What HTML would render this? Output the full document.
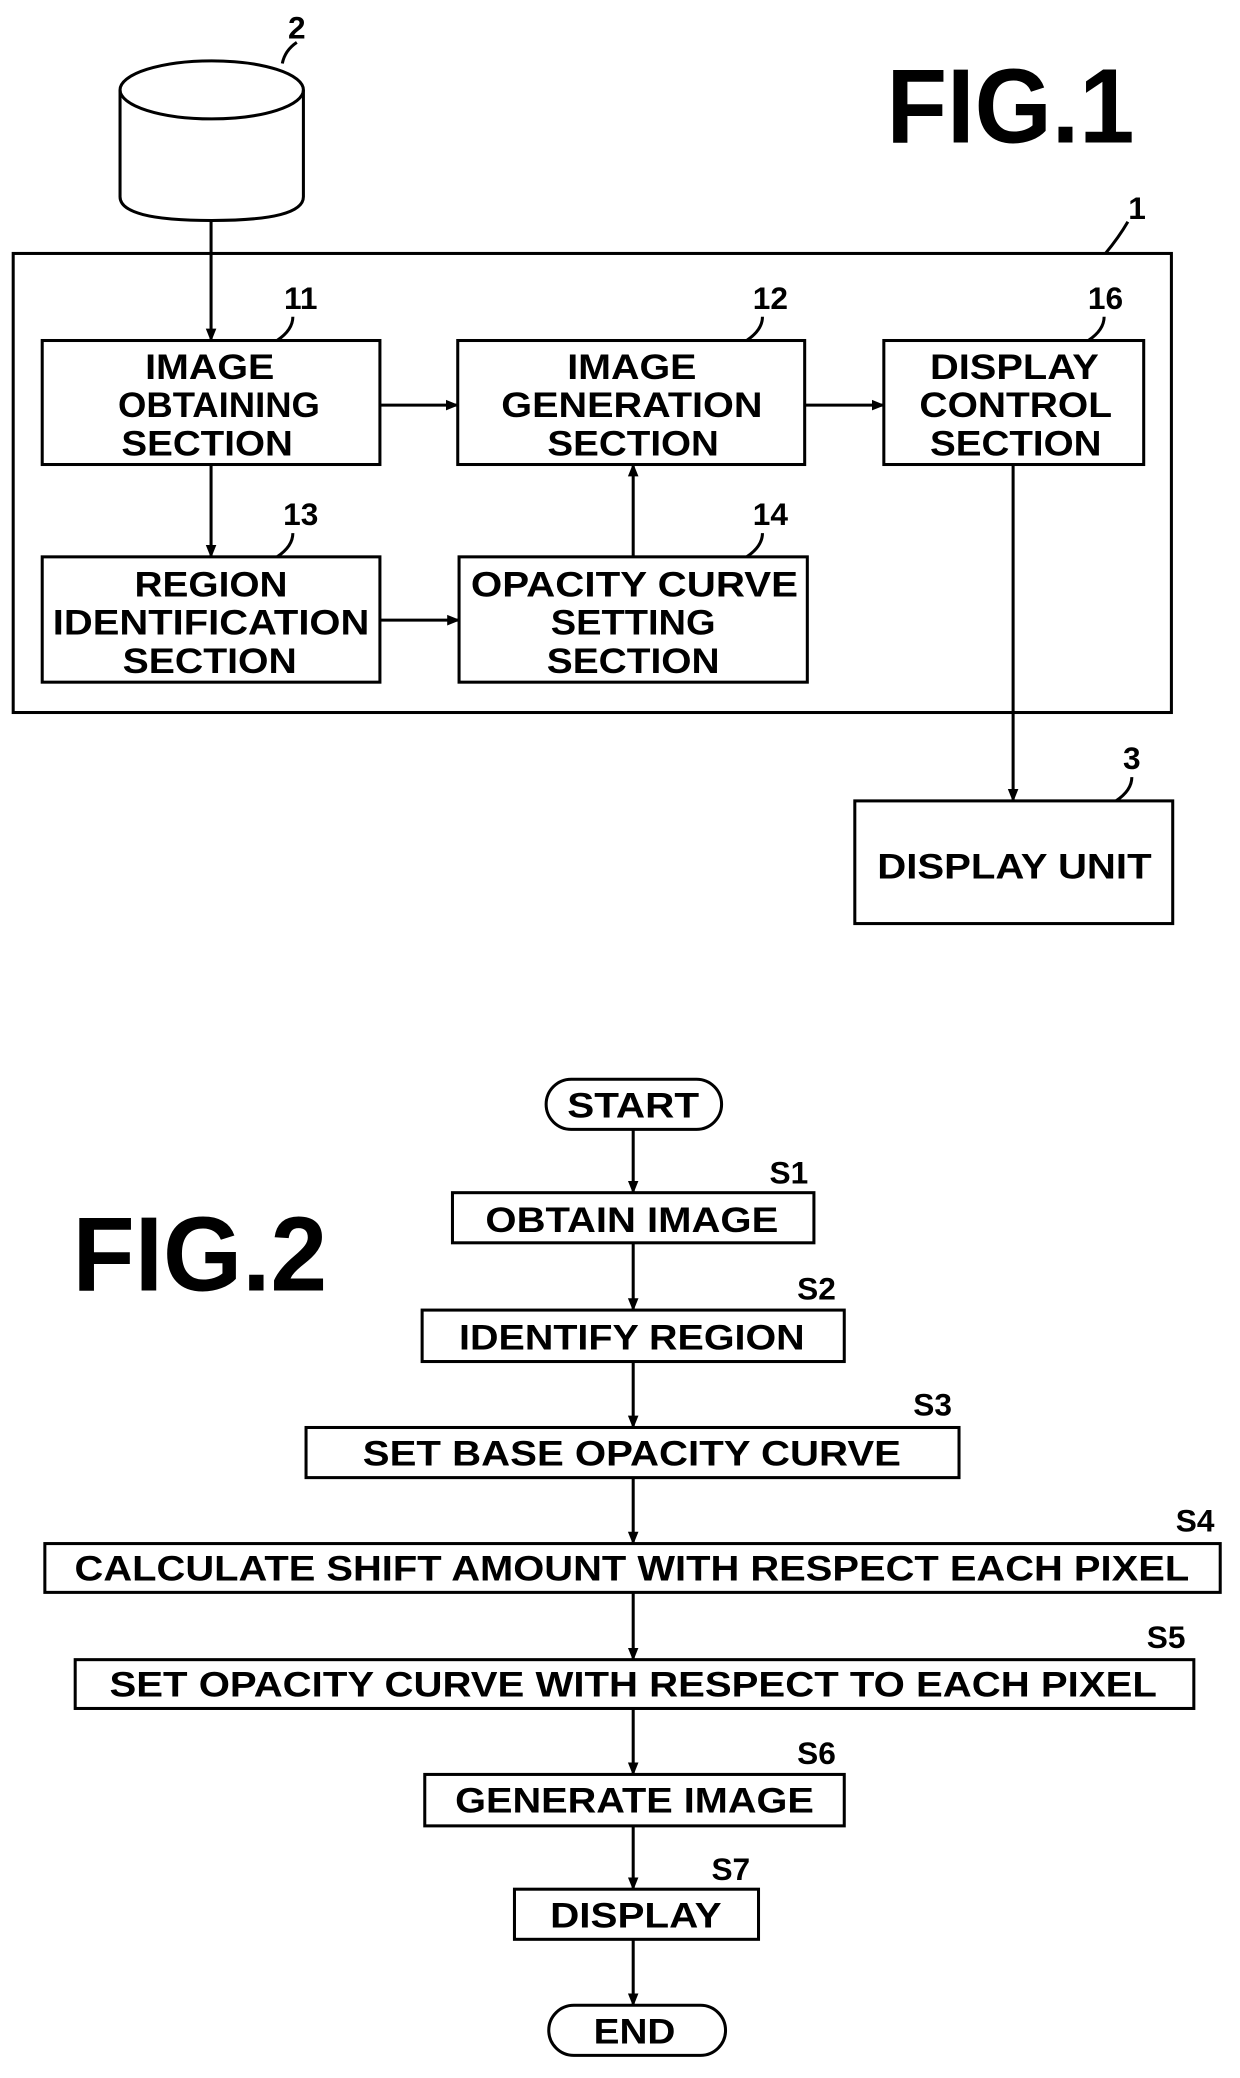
<!DOCTYPE html>
<html><head><meta charset="utf-8"><style>html,body{margin:0;padding:0;background:#fff}svg{display:block}</style></head>
<body>
<svg width="1240" height="2078" viewBox="0 0 940 1575" xmlns="http://www.w3.org/2000/svg" font-family="Liberation Sans, Arial, sans-serif" font-weight="bold">
<defs><marker id="a" markerWidth="10" markerHeight="10" refX="9" refY="5" orient="auto" markerUnits="userSpaceOnUse"><path d="M0,1 L10,5 L0,9 Z" fill="#000"/></marker></defs>
<g fill="none" stroke="#000" stroke-width="2.3">
<ellipse cx="160.5" cy="68" rx="69.5" ry="22"/>
<path d="M91,68 L91,149 Q91,167 160.5,167 Q230,167 230,149 L230,68"/>
<path d="M214,48 Q216,38 225,32"/>
<rect x="10" y="192" width="878" height="348"/>
<path d="M838,192 Q848,180 855,168"/>
<rect x="32" y="258" width="256" height="94"/>
<rect x="347" y="258" width="263" height="94"/>
<rect x="670" y="258" width="197" height="94"/>
<rect x="32" y="422" width="256" height="95"/>
<rect x="348" y="422" width="264" height="95"/>
<rect x="648" y="607" width="241" height="93"/>
<path d="M210,258 Q222,250 222,240"/><path d="M566,258 Q578,250 578,240"/><path d="M825,258 Q837,250 837,240"/>
<path d="M210,422 Q222,414 222,404"/><path d="M566,422 Q578,414 578,404"/><path d="M846,607 Q858,599 858,589"/>
<g marker-end="url(#a)">
<line x1="160" y1="167" x2="160" y2="258"/>
<line x1="160" y1="352" x2="160" y2="422"/>
<line x1="288" y1="307" x2="347" y2="307"/>
<line x1="610" y1="307" x2="670" y2="307"/>
<line x1="480" y1="422" x2="480" y2="352"/>
<line x1="288" y1="470" x2="348" y2="470"/>
<line x1="768" y1="352" x2="768" y2="607"/>
</g>
</g>
<g font-size="27" text-anchor="middle">
<text x="672" y="108" text-anchor="start" font-size="80" textLength="188" lengthAdjust="spacingAndGlyphs">FIG.1</text>
<text x="225" y="29" font-size="24">2</text>
<text x="862" y="166" font-size="24">1</text>
<text x="228" y="234" font-size="24">11</text><text x="584" y="234" font-size="24">12</text><text x="838" y="234" font-size="24">16</text>
<text x="228" y="398" font-size="24">13</text><text x="584" y="398" font-size="24">14</text><text x="858" y="583" font-size="24">3</text>
<text x="159" y="287" textLength="98" lengthAdjust="spacingAndGlyphs">IMAGE</text>
<text x="166" y="316" textLength="153" lengthAdjust="spacingAndGlyphs">OBTAINING</text>
<text x="157" y="345" textLength="130" lengthAdjust="spacingAndGlyphs">SECTION</text>
<text x="479" y="287" textLength="98" lengthAdjust="spacingAndGlyphs">IMAGE</text>
<text x="479" y="316" textLength="198" lengthAdjust="spacingAndGlyphs">GENERATION</text>
<text x="480" y="345" textLength="130" lengthAdjust="spacingAndGlyphs">SECTION</text>
<text x="769" y="287" textLength="128" lengthAdjust="spacingAndGlyphs">DISPLAY</text>
<text x="770" y="316" textLength="146" lengthAdjust="spacingAndGlyphs">CONTROL</text>
<text x="770" y="345" textLength="130" lengthAdjust="spacingAndGlyphs">SECTION</text>
<text x="160" y="452" textLength="116" lengthAdjust="spacingAndGlyphs">REGION</text>
<text x="160" y="481" textLength="240" lengthAdjust="spacingAndGlyphs">IDENTIFICATION</text>
<text x="159" y="510" textLength="132" lengthAdjust="spacingAndGlyphs">SECTION</text>
<text x="481" y="452" textLength="248" lengthAdjust="spacingAndGlyphs">OPACITY CURVE</text>
<text x="480" y="481" textLength="125" lengthAdjust="spacingAndGlyphs">SETTING</text>
<text x="480" y="510" textLength="131" lengthAdjust="spacingAndGlyphs">SECTION</text>
<text x="769" y="666" textLength="208" lengthAdjust="spacingAndGlyphs">DISPLAY UNIT</text>
</g>
<g fill="none" stroke="#000" stroke-width="2.3">
<rect x="414" y="818" width="133" height="38" rx="19"/>
<rect x="416" y="1520" width="134" height="38" rx="19"/>
<rect x="343" y="904" width="274" height="38"/>
<rect x="320" y="993" width="320" height="39"/>
<rect x="232" y="1082" width="495" height="38"/>
<rect x="34" y="1170" width="891" height="37"/>
<rect x="57" y="1258" width="848" height="37"/>
<rect x="322" y="1345" width="318" height="39"/>
<rect x="390" y="1432" width="185" height="38"/>
<g marker-end="url(#a)">
<line x1="480" y1="856" x2="480" y2="904"/>
<line x1="480" y1="942" x2="480" y2="993"/>
<line x1="480" y1="1032" x2="480" y2="1082"/>
<line x1="480" y1="1120" x2="480" y2="1170"/>
<line x1="480" y1="1207" x2="480" y2="1258"/>
<line x1="480" y1="1295" x2="480" y2="1345"/>
<line x1="480" y1="1384" x2="480" y2="1432"/>
<line x1="480" y1="1470" x2="480" y2="1520"/>
</g>
</g>
<g font-size="27" text-anchor="middle">
<text x="55" y="978" text-anchor="start" font-size="80" textLength="193" lengthAdjust="spacingAndGlyphs">FIG.2</text>
<text x="480" y="847" textLength="100" lengthAdjust="spacingAndGlyphs">START</text>
<text x="481" y="1549" textLength="62" lengthAdjust="spacingAndGlyphs">END</text>
<text x="479" y="934" textLength="222" lengthAdjust="spacingAndGlyphs">OBTAIN IMAGE</text>
<text x="479" y="1023" textLength="262" lengthAdjust="spacingAndGlyphs">IDENTIFY REGION</text>
<text x="479" y="1111" textLength="408" lengthAdjust="spacingAndGlyphs">SET BASE OPACITY CURVE</text>
<text x="479" y="1198" textLength="845" lengthAdjust="spacingAndGlyphs">CALCULATE SHIFT AMOUNT WITH RESPECT EACH PIXEL</text>
<text x="480" y="1286" textLength="794" lengthAdjust="spacingAndGlyphs">SET OPACITY CURVE WITH RESPECT TO EACH PIXEL</text>
<text x="481" y="1374" textLength="272" lengthAdjust="spacingAndGlyphs">GENERATE IMAGE</text>
<text x="482" y="1461" textLength="130" lengthAdjust="spacingAndGlyphs">DISPLAY</text>
<g font-size="24">
<text x="598" y="897">S1</text><text x="619" y="985">S2</text><text x="707" y="1073">S3</text>
<text x="906" y="1161">S4</text><text x="884" y="1249">S5</text><text x="619" y="1337">S6</text><text x="554" y="1425">S7</text>
</g>
</g>
</svg>
</body></html>
